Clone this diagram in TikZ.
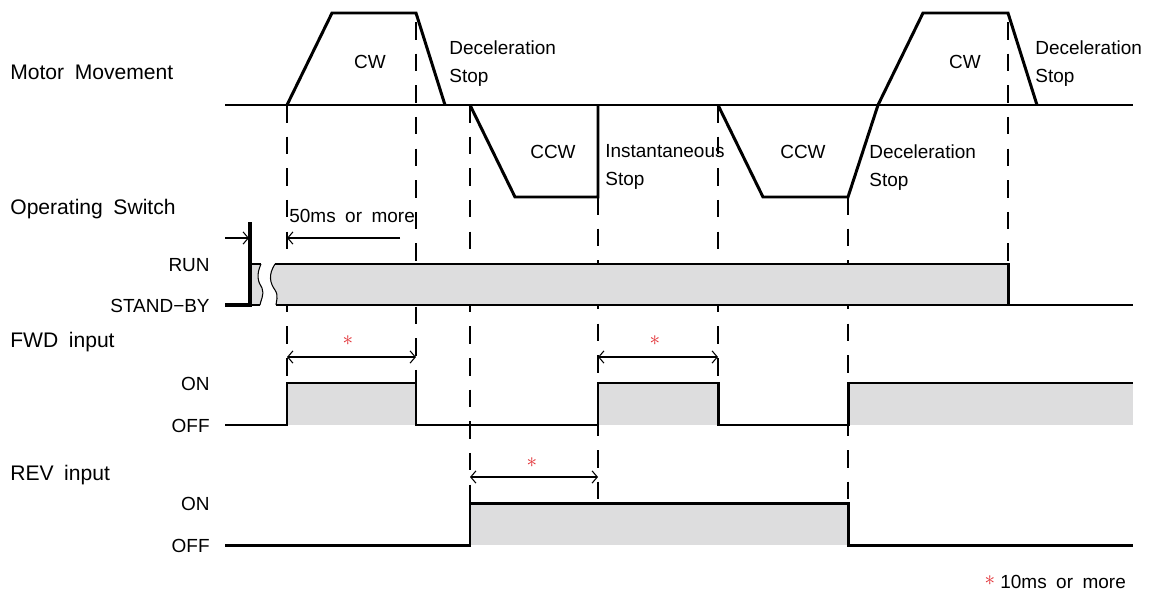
\documentclass[tikz,border=0pt]{standalone}
\usepackage{fontspec}
\setmainfont{Liberation Sans}[WordSpace=1.8]
\usetikzlibrary{arrows.meta}
\definecolor{sgray}{RGB}{221,221,222}
\definecolor{sred}{RGB}{225,45,50}
\tikzset{sig/.style={line width=1.7pt},base/.style={line width=1pt},guide/.style={line width=.7pt,dash pattern=on 10pt off 8pt},
dim/.style={line width=.6pt,{Straight Barb[length=3pt,width=7pt]}-{Straight Barb[length=3pt,width=7pt]}},
row/.style={font=\fontsize{12}{14}\selectfont,anchor=base west,inner sep=0pt},
txt/.style={font=\fontsize{10.8}{16}\selectfont,inner sep=0pt},lvl/.style={txt,anchor=base east},
two/.style={txt,align=left,anchor=north west},star/.style={text=sred,inner sep=0pt,font=\large}}
\begin{document}
\begin{tikzpicture}[x=0.02cm,y=-0.02cm]
\useasboundingbox (0,0) rectangle (1150,592);
\node[row](motor)at(10,79){Motor Movement};\node[row](opsw)at(10,214){Operating Switch};
\node[row](fwd)at(10,347){FWD input};\node[row](rev)at(10,480){REV input};
\node[lvl](run)at(210,271){RUN};\node[lvl](stby)at(210,312){STAND−BY};
\node[lvl](fon)at(210,390){ON};\node[lvl](foff)at(210,432){OFF};\node[lvl](ron)at(210,510){ON};\node[lvl](roff)at(210,552){OFF};
\node[txt](cwa)at(370,62){CW};\node[txt](ccwa)at(553,152){CCW};\node[txt](ccwb)at(803,152){CCW};\node[txt](cwb)at(965,62){CW};
\node[two](deca)at(449,40){Deceleration\\Stop};\node[two](inst)at(605,144){Instantaneous\\Stop};
\node[two](decb)at(869,144){Deceleration\\Stop};\node[two](decc)at(1035,40){Deceleration\\Stop};
\draw[base](225,105)--(1133,105);
\draw[sig](287,105)--(332,13)--(416,13)--(445,105);\draw[sig](470,105)--(515,197)--(598,197)--(598,105);
\draw[sig](718,105)--(763,197)--(848,197)--(878,105);\draw[sig](878,105)--(923,13)--(1008,13)--(1037,105);
\foreach \x/\a/\b in {287/105/383,416/22/383,470/105/503,598/197/503,718/105/383,848/197/503,1008/22/264}{\draw[guide](\x,\a)--(\x,\b);}
\fill[sgray](275,264)..controls(268,275)and(270,283)..(275,290)..controls(279,296)and(276,302)..(276,305)--(1008,305)--(1008,264)--cycle;
\fill[sgray](250,264)--(261,264)..controls(256,275)and(258,282)..(262,288)..controls(265,294)and(260,302)..(260,305)--(250,305)--cycle;
\draw[line width=.6pt](275,264)..controls(268,275)and(270,283)..(275,290)..controls(279,296)and(276,302)..(276,305);
\draw[line width=.6pt](261,264)..controls(256,275)and(258,282)..(262,288)..controls(265,294)and(260,302)..(260,305);
\draw[line width=2.2pt](225,305)--(250,305)--(250,222);\draw[sig](250,264)--(261,264);\draw[sig](275,264)--(1008,264)--(1008,305);
\draw[base](250,305)--(260,305);\draw[base](276,305)--(1133,305);
\draw[line width=.6pt,-{Straight Barb[length=3pt,width=7pt]}](225,238)--(249,238);
\draw[line width=.6pt,-{Straight Barb[length=3pt,width=7pt]}](400,238)--(287,238);
\node[txt,anchor=base west](fifty)at(289,222){50ms or more};
\fill[sgray](287,383)rectangle(416,425);\fill[sgray](598,383)rectangle(718,425);\fill[sgray](848,383)rectangle(1133,425);
\draw[sig](225,425)--(287,425)--(287,383)--(416,383)--(416,425)--(598,425)--(598,383)--(718,383)--(718,425)--(848,425)--(848,383)--(1133,383);
\fill[sgray](470,503)rectangle(848,545);
\draw[sig](225,545)--(470,545)--(470,503)--(848,503)--(848,545)--(1133,545);
\draw[dim](287,357)--(416,357);\draw[dim](598,357)--(718,357);\draw[dim](470,477)--(598,477);
\node[star](sa)at(348,341){$\ast$};\node[star](sb)at(655,341){$\ast$};\node[star](sc)at(532,463){$\ast$};\node[star](sd)at(990,581){$\ast$};
\node[txt,anchor=base west](note)at(1000,588){10ms or more};
\end{tikzpicture}
\end{document}
